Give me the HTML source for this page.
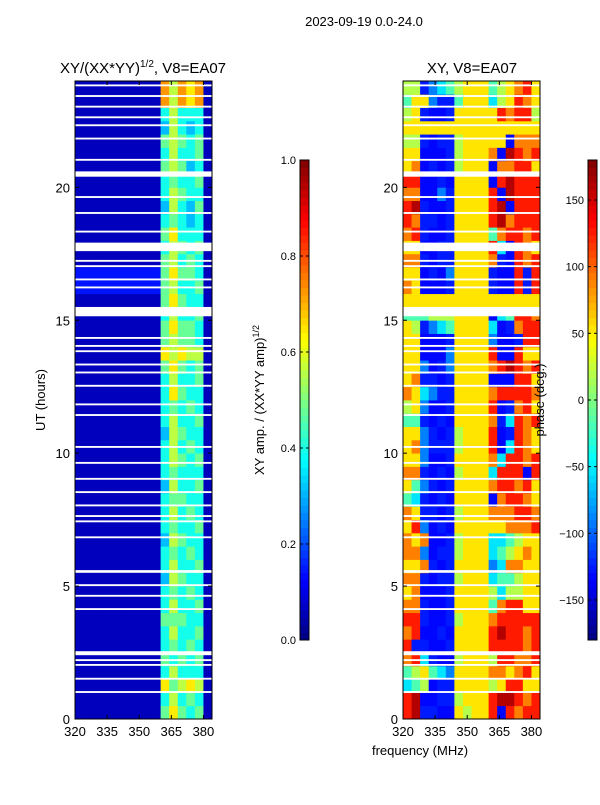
<!DOCTYPE html>
<html><head><meta charset="utf-8">
<style>
body{margin:0;background:#fff;width:600px;height:800px;overflow:hidden;font-family:"Liberation Sans",sans-serif;}
svg text{font-family:"Liberation Sans","DejaVu Sans",sans-serif;}
</style></head><body>
<svg id="fig" width="600" height="800" xmlns="http://www.w3.org/2000/svg">
<text x="364" y="26" font-size="13" text-anchor="middle">2023-09-19 0.0-24.0</text>
<text x="143" y="73" font-size="15" text-anchor="middle">XY/(XX*YY)<tspan font-size="10" dy="-6">1/2</tspan><tspan dy="6">, V8=EA07</tspan></text>
<text x="472" y="73" font-size="15" text-anchor="middle">XY, V8=EA07</text>
<text transform="translate(45,400) rotate(-90)" font-size="13" text-anchor="middle">UT (hours)</text>
<text x="420" y="755" font-size="13" text-anchor="middle">frequency (MHz)</text>
<text transform="translate(264,400) rotate(-90)" font-size="13" text-anchor="middle">XY amp. / (XX*YY amp)<tspan font-size="9" dy="-5">1/2</tspan></text>
<g id="left"></g><g id="right"></g><g id="cb"></g>
<text transform="translate(544,400) rotate(-90)" font-size="13" text-anchor="middle">phase (deg.)</text>
</svg>
<script>
const freqStart=[320,324,328,332,336,340,344,348,352,356,360,364,368,372,376,380];
const freqStep=4;
const hourStep=0.5;
// amplitude grid (digit code), row 0 = 0h
const ampRows=[
"0000000000575450","0000000000464540","0000000000756760","0000000000464440","0000000000545450",
"0000000000454540","0000000000464450","0000000000555440","0000000000464450","0000000000454540",
"0000000000365440","0000000000464450","0000000000454540","0000000000365440","0000000000454450",
"0000000000464540","0000000000455440","0000000000364450","0000000000454440","0000000000465450",
"0000000000464540","0000000000365440","0000000000464450","0000000000454540","0000000000475440",
"0000000000464450","0000000000575450","0000000000767660","0000000000565540","0000000000575540",
"0000000000464450","0000000000575440","1111111111564450","1111111111575540","0000000000564540",
"0000000000465450","0000000000574440","0000000000454340","0000000000364350","0000000000465440",
"0000000000454450","0000000000565340","0000000000464450","0000000000565450","0000000000364340",
"0000000000464440","0000000000868780","0000000000868780"];
// phase grid: digit code
const phaseRows=[
"8911006566808788","8900115666899878","3450116666568866","4564326666776786","7831005666588778",
"8110016666888878","7800106666898878","8810015666788888","7710016666478866","6700016666535566",
"7710115666344566","6671016666237766","7720115666345676","7670015666334566","6820106666667778",
"7611015666777887","4310106666078876","6421016666788786","7710105666388808","6620016666738878",
"6721115666803876","6621015666801876","4410106666713878","5620016666801786","7632116666788887",
"6711016666000886","6620126666789878","6600026666800866","6600016666200188","6512346666301788",
"4445556666034887","6666666666666666","7600016666100818","6601026666100818","7710116666710878",
"6600116666830876","7810016666478878","8711016666897888","8910016666890888","7700216666809888",
"8800106666089888","6701015666077886","6600015666709878","5510115666660777","6666666666666666",
"5610016666687885","4662114666356876","5512345666456786"];
// flagged (blank) time ranges in hours [start,end]
const flagStart=[0.98,1.48,2.0,2.18,2.4,4.1,4.6,5.0,5.5,6.8,7.4,7.6,8.0,8.5,9.0,9.6,10.2,11.4,11.8,12.5,13.0,13.3,13.8,14.0,14.3,15.15,16.2,16.5,17.0,17.2,17.6,18.3,19.0,19.6,20.4,21.0,21.8,22.3,22.6,23.0,23.4,23.8];
const flagEnd=  [1.05,1.55,2.07,2.25,2.55,4.17,4.67,5.07,5.6,6.87,7.47,7.67,8.07,8.57,9.07,9.67,10.27,11.47,11.87,12.57,13.07,13.37,13.87,14.07,14.37,15.5,16.27,16.57,17.07,17.27,17.92,18.37,19.07,19.67,20.6,21.07,21.87,22.37,22.67,23.07,23.47,23.87];
const xTicks=[320,335,350,365,380];
const yTicks=[0,5,10,15,20];
const ampTicks=[0.0,0.2,0.4,0.6,0.8,1.0];
const phaseTicks=[-150,-100,-50,0,50,100,150];

const NS="http://www.w3.org/2000/svg";
function el(t,a,p){const e=document.createElementNS(NS,t);for(const k in a)e.setAttribute(k,a[k]);p.appendChild(e);return e;}
function jet(t){t=Math.max(0,Math.min(1,t));const f=x=>Math.round(255*Math.max(0,Math.min(1,1.5-Math.abs(4*t-x))));return `rgb(${f(3)},${f(2)},${f(1)})`;}
const Y0=719,Y1=81,FMIN=320,FMAX=384;
function yS(h){return Y0+(Y1-Y0)*h/24;}
function panel(g,x0,x1,rows,valFn,name){
  const xS=f=>x0+(x1-x0)*(f-FMIN)/(FMAX-FMIN);
  rows.forEach((r,i)=>{for(let j=0;j<r.length;j++){
    const f=freqStart[j],h=i*hourStep;
    const c=el('rect',{x:xS(f),y:yS(h+hourStep),width:xS(f+freqStep)-xS(f)+0.4,height:yS(h)-yS(h+hourStep)+0.4,fill:jet(valFn(+r[j]))},g);
    
    
  }});
  flagStart.forEach((s,k)=>{
    const b=el('rect',{x:x0,y:yS(flagEnd[k]),width:x1-x0,height:yS(s)-yS(flagEnd[k]),fill:'#fff'},g);
    
    
  });
  const fr=el('rect',{x:x0,y:Y1,width:x1-x0,height:Y0-Y1,fill:'none',stroke:'#000','stroke-width':1},g);
  
  
  xTicks.forEach(v=>{const x=xS(v);
    el('line',{x1:x,x2:x,y1:Y0,y2:Y0-4,stroke:'#000'},g);el('line',{x1:x,x2:x,y1:Y1,y2:Y1+4,stroke:'#000'},g);
    const t=el('text',{x:x,y:Y0+17,'font-size':13,'text-anchor':'middle'},g);t.textContent=v;
    
    });
  yTicks.forEach(v=>{const y=yS(v);
    el('line',{x1:x0,x2:x0+4,y1:y,y2:y,stroke:'#000'},g);el('line',{x1:x1,x2:x1-4,y1:y,y2:y,stroke:'#000'},g);
    const t=el('text',{x:x0-5,y:y+5,'font-size':13,'text-anchor':'end'},g);t.textContent=v;
    
    });
}
panel(document.getElementById('left'),75,212,ampRows,d=>d/12+0.06,'amp');
panel(document.getElementById('right'),403,540,phaseRows,d=>d===0?0.13:(d+0.5)/10,'phase');
function cbar(x,vmin,vmax,ticks,name,fmt){
  const g=document.getElementById('cb');const top=160,bot=640;const n=64;
  for(let i=0;i<n;i++){const r=el('rect',{x:x,y:bot-(i+1)*(bot-top)/n,width:9,height:(bot-top)/n+0.5,fill:jet((i+0.5)/n)},g);
    
    }
  el('rect',{x:x,y:top,width:9,height:bot-top,fill:'none',stroke:'#000'},g);
  ticks.forEach(v=>{const y=bot-(bot-top)*(v-vmin)/(vmax-vmin);
    el('line',{x1:x,x2:x+3,y1:y,y2:y,stroke:'#000'},g);el('line',{x1:x+9,x2:x+6,y1:y,y2:y,stroke:'#000'},g);
    const t=el('text',{x:x-4,y:y+4,'font-size':11,'text-anchor':'end'},g);
    t.textContent=fmt(v);
    
    });
}
cbar(300,0,1,ampTicks,'amp-cbar',v=>v.toFixed(1));
cbar(588,-180,180,phaseTicks,'phase-cbar',v=>v<0?'\u2212'+(-v):''+v);
</script>
</body></html>
